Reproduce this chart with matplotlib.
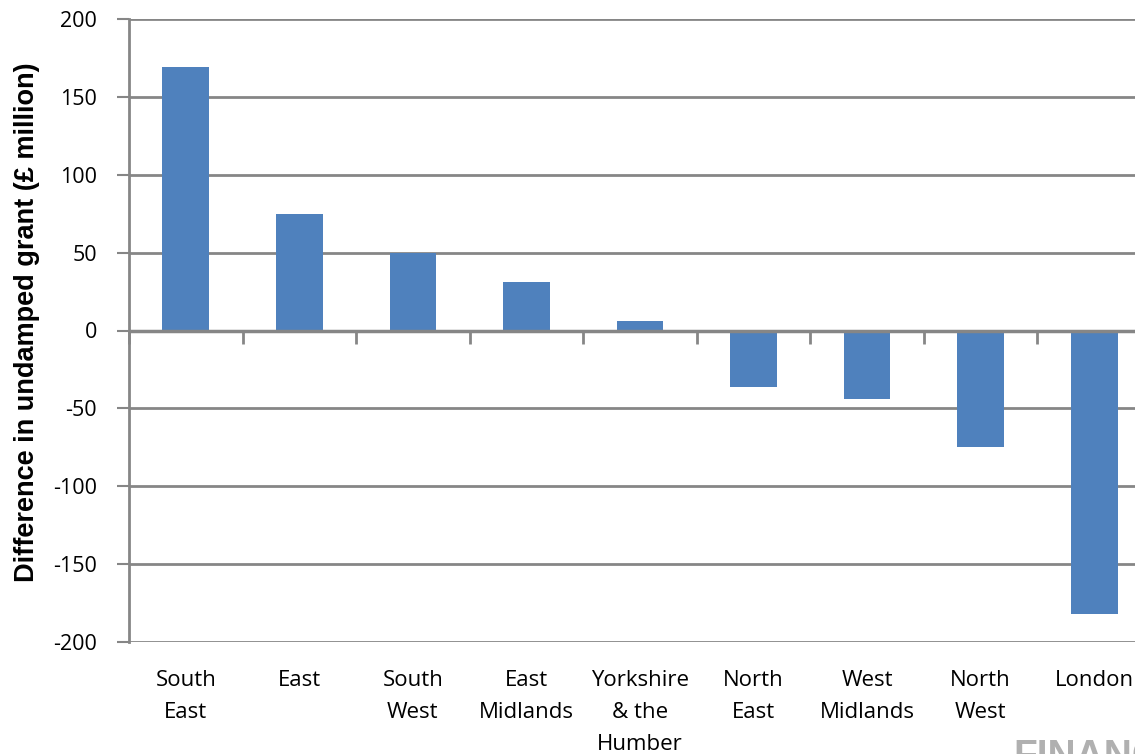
import numpy as np
import matplotlib.pyplot as plt

# Regional difference in undamped grant, £ million
regions = ['South\nEast', 'East', 'South\nWest', 'East\nMidlands', 'Yorkshire\n& the\nHumber',
           'North\nEast', 'West\nMidlands', 'North\nWest', 'London']
difference = [169, 75, 50, 31, 6, -36, -44, -75, -182]
y_ticks = [-200, -150, -100, -50, 0, 50, 100, 150, 200]

bar_colour = '#4F81BD'
grid_colour = '#868686'

plt.rcParams['font.family'] = ['Open Sans', 'DejaVu Sans']

fig = plt.figure(figsize=(11.35, 7.54), dpi=100)
# plot area runs a little past the right edge of the figure
ax = fig.add_axes([129 / 1135, 112 / 754, 1022 / 1135, 623 / 754])

x = np.arange(len(regions))
ax.bar(x, difference, width=0.41, color=bar_colour, zorder=3)

ax.set_xlim(-0.5, len(regions) - 0.5)
ax.set_ylim(-200, 200)
ax.set_yticks(y_ticks)
ax.set_yticklabels([str(v) for v in y_ticks], fontsize=15.5)
ax.tick_params(axis='y', length=9, width=1.5, color=grid_colour, pad=14)
ax.yaxis.grid(True, color=grid_colour, linewidth=2, zorder=1)
ax.axhline(0, color=grid_colour, linewidth=2.5, zorder=4)

# category names sit under the plot area
ax.set_xticks(x)
ax.set_xticklabels(regions, fontsize=16, linespacing=1.68, va='top')
ax.tick_params(axis='x', length=0, pad=20)

for side in ['top', 'right', 'bottom']:
    ax.spines[side].set_visible(False)
ax.spines['left'].set_color(grid_colour)
ax.spines['left'].set_linewidth(2)

# boundary ticks hanging from the zero line
zero_axis = ax.secondary_xaxis(0.5)
zero_axis.set_xticks(np.arange(len(regions) + 1) - 0.5)
zero_axis.set_xticklabels([])
zero_axis.tick_params(length=10, width=2, color=grid_colour, direction='in')
zero_axis.spines['bottom'].set_visible(False)
zero_axis.spines['top'].set_visible(False)

ax.set_ylabel('Difference in undamped grant (£ million)', fontsize=19.5, fontweight='bold',
              family=['Liberation Sans', 'DejaVu Sans'])
ax.yaxis.set_label_coords(-0.087, 0.514)

fig.text(1013 / 1135, -0.017, 'FINANC', fontsize=28, fontweight='bold', color='#b0b0b0',
         family=['Liberation Sans'], va='baseline', ha='left')

fig.savefig('out.png', dpi=100)
